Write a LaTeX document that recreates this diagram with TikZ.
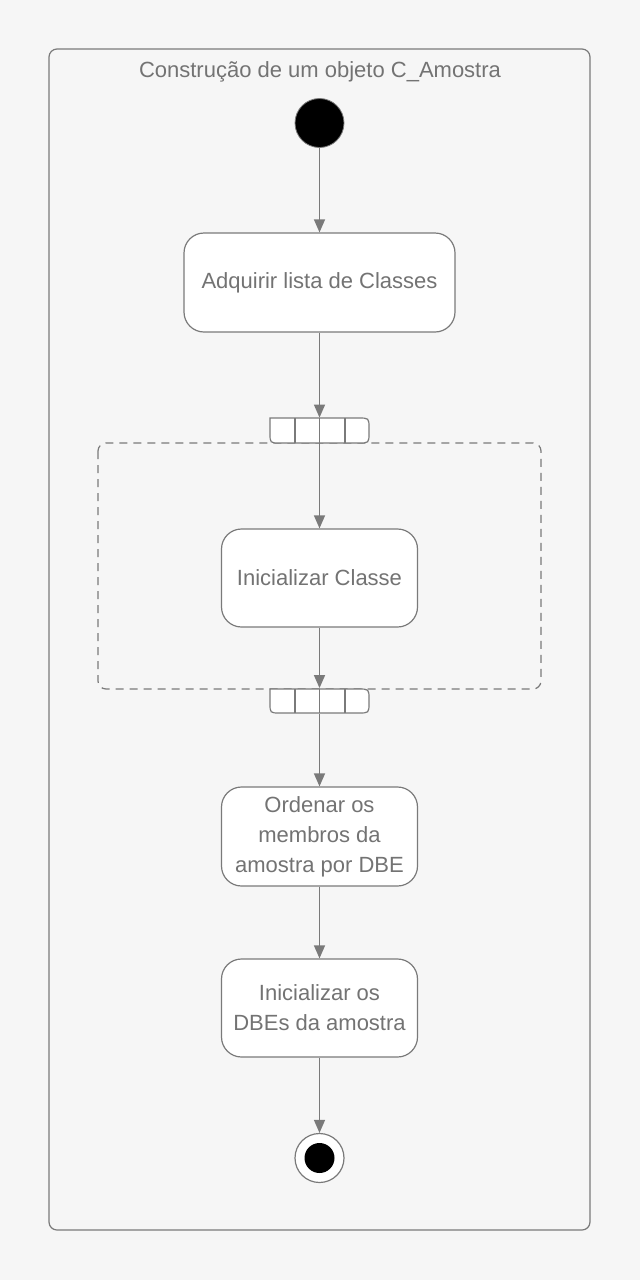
\documentclass[tikz,border=0pt]{standalone}
\usepackage{fontspec}
\setmainfont{Liberation Sans}
\usetikzlibrary{arrows.meta}
\definecolor{bg}{HTML}{F6F6F6}
\definecolor{ln}{HTML}{7A7A7A}
\definecolor{tx}{HTML}{737373}
\begin{document}
\begin{tikzpicture}[x=0.5pt,y=-0.5pt,
  txt/.style={font=\fontsize{11}{15}\selectfont,text=tx},
  action/.style={draw=ln,line width=0.6pt,fill=white,rounded corners=10pt,inner sep=0pt,align=center,txt},
  flow/.style={draw=ln,line width=0.7pt,-{Triangle[length=6.5pt,width=5.5pt]}},
  pinbox/.style={inner sep=0pt,minimum width=49.5pt,minimum height=12.5pt}
]
\fill[bg] (0,0) rectangle (640,1280);
\useasboundingbox (0,0) rectangle (640,1280);
% frame
\draw[ln,line width=0.6pt,rounded corners=4pt] (49,49) rectangle (590,1230);
\node[txt] (title) at (320,72) {Construção de um objeto C\_Amostra};
% dashed region
\draw[ln,line width=0.6pt,dashed,dash pattern=on 4pt off 3pt,rounded corners=4pt] (98,443) rectangle (541,689);
% start
\node[circle,fill=black,draw=ln,line width=0.4pt,minimum size=24.5pt,inner sep=0pt] (start) at (319.5,123) {};
% actions
\node[action,minimum width=135.5pt,minimum height=49.5pt] (b1) at (319.5,282.5) {Adquirir lista de Classes};
\node[action,minimum width=98pt,minimum height=49pt] (b2) at (319.5,578) {Inicializar Classe};
\node[action,minimum width=98pt,minimum height=49.5pt] (b3) at (319.5,836.5) {Ordenar os\\membros da\\amostra por DBE};
\node[action,minimum width=98pt,minimum height=49pt] (b4) at (319.5,1008) {Inicializar os\\DBEs da amostra};
% pins
\node[pinbox] (pin1) at (319.5,430.5) {};
\node[pinbox] (pin2) at (319.5,701) {};
\draw[ln,line width=0.6pt,fill=white] (270,418) -- (358,418) .. controls (369,418) .. (369,428) -- (369,433) .. controls (369,443) .. (358,443) -- (280,443) .. controls (270,443) .. (270,433) -- cycle;
\draw[ln,line width=0.6pt] (295,418) -- (295,443) (345,418) -- (345,443) (319.5,418) -- (319.5,443);
\draw[ln,line width=0.6pt,fill=white] (270,689) -- (358,689) .. controls (369,689) .. (369,699) -- (369,703) .. controls (369,713) .. (358,713) -- (280,713) .. controls (270,713) .. (270,703) -- cycle;
\draw[ln,line width=0.6pt] (295,689) -- (295,713) (345,689) -- (345,713) (319.5,689) -- (319.5,713);
% end
\node[circle,draw=ln,line width=0.6pt,fill=white,minimum size=24.5pt,inner sep=0pt] (end) at (319.5,1158) {};
\node[circle,fill=black,minimum size=15pt,inner sep=0pt] (endin) at (319.5,1158) {};
% flows
\draw[flow] (start) -- (b1);
\draw[flow] (b1) -- (pin1.north);
\draw[flow] (pin1.south) -- (b2);
\draw[flow] (b2) -- (pin2.north);
\draw[flow] (pin2.south) -- (b3);
\draw[flow] (b3) -- (b4);
\draw[flow] (b4) -- (end);
\end{tikzpicture}
\end{document}
